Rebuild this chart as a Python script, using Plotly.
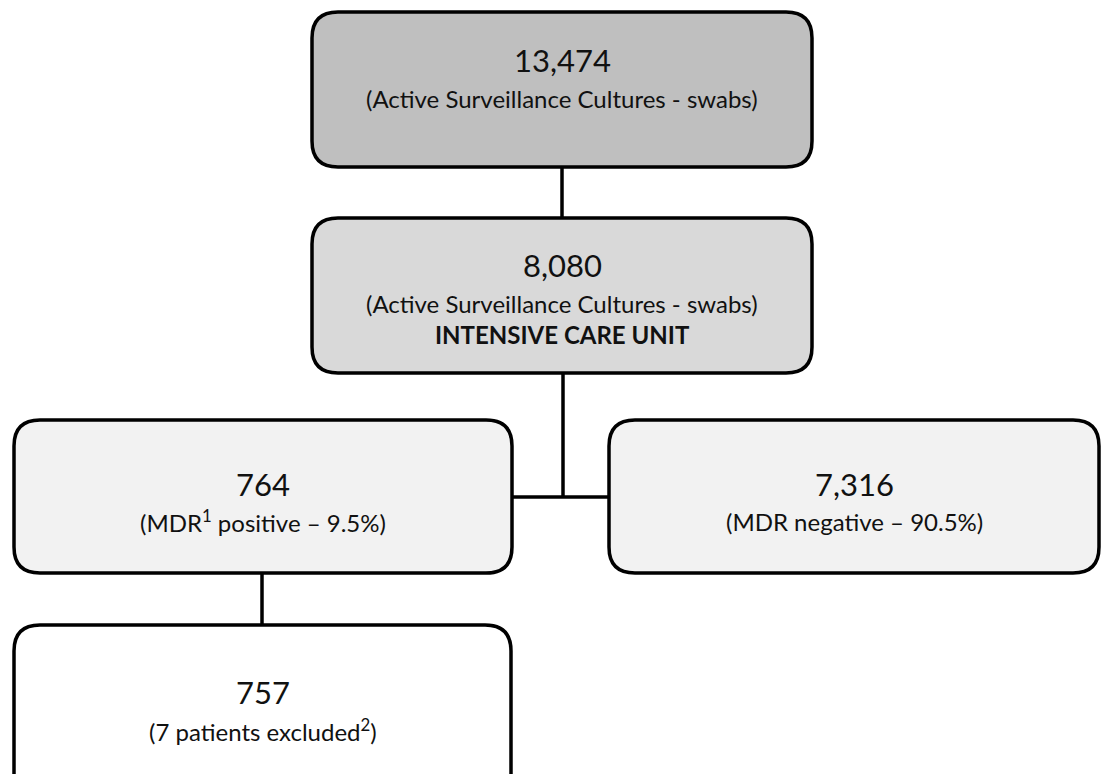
import plotly.graph_objects as go

# ---- data ----
counts = ["13,474", "8,080", "764", "7,316", "757"]
descriptions = [
    "(Active Surveillance Cultures - swabs)",
    "(Active Surveillance Cultures - swabs)",
    "(MDR<sup>1</sup> positive – 9.5%)",
    "(MDR negative – 90.5%)",
    "(7 patients excluded<sup>2</sup>)",
]
extra_lines = ["", "<b>INTENSIVE CARE UNIT</b>", "", "", ""]

# ---- layout of the flowchart (pixel coordinates, y downward) ----
boxes = [  # x0, y0, x1, y1
    (312, 12, 812, 167),
    (312, 218, 812, 373),
    (14, 420, 512, 573),
    (609, 420, 1099, 573),
    (14, 625, 511, 800),
]
fills = ["#bfbfbf", "#d9d9d9", "#f2f2f2", "#f2f2f2", "#ffffff"]
count_y = [60, 265, 484, 484, 692]
desc_y = [98, 303, 521, 521, 730]
extra_y = [None, 334, None, None, None]
connectors = [  # x0, y0, x1, y1
    (562, 167, 562, 218),
    (563, 373, 563, 497),
    (512, 497, 609, 497),
    (262, 573, 262, 625),
]

W, H = 1101, 774
R = 26
LW = 3.5
FONT = "Lato"

def rounded(x0, y0, x1, y1, r):
    return (f"M {x0+r},{y0} L {x1-r},{y0} Q {x1},{y0} {x1},{y0+r} "
            f"L {x1},{y1-r} Q {x1},{y1} {x1-r},{y1} L {x0+r},{y1} "
            f"Q {x0},{y1} {x0},{y1-r} L {x0},{y0+r} Q {x0},{y0} {x0+r},{y0} Z")

fig = go.Figure()
fig.add_trace(go.Scatter(x=[0, W], y=[0, H], mode="markers",
                         marker=dict(opacity=0), hoverinfo="skip", showlegend=False))

shapes = []
for (x0, y0, x1, y1) in connectors:
    shapes.append(dict(type="line", xref="x", yref="y", x0=x0, y0=y0, x1=x1, y1=y1,
                       line=dict(color="#000000", width=LW), layer="below"))
for b, f in zip(boxes, fills):
    shapes.append(dict(type="path", xref="x", yref="y", path=rounded(*b, R),
                       fillcolor=f, line=dict(color="#000000", width=LW), layer="above"))

annotations = []
for i, b in enumerate(boxes):
    cx = (b[0] + b[2]) / 2
    annotations.append(dict(x=cx, y=count_y[i], xref="x", yref="y", text=counts[i],
                            showarrow=False, xanchor="center", yanchor="middle",
                            font=dict(family=FONT, size=31, color="#111111")))
    annotations.append(dict(x=cx, y=desc_y[i], xref="x", yref="y", text=descriptions[i],
                            showarrow=False, xanchor="center", yanchor="middle",
                            font=dict(family=FONT, size=24, color="#111111")))
    if extra_lines[i]:
        annotations.append(dict(x=cx, y=extra_y[i], xref="x", yref="y", text=extra_lines[i],
                                showarrow=False, xanchor="center", yanchor="middle",
                                font=dict(family=FONT, size=24, color="#111111")))

fig.update_layout(
    width=W, height=H,
    margin=dict(l=0, r=0, t=0, b=0),
    paper_bgcolor="white", plot_bgcolor="white",
    xaxis=dict(range=[0, W], visible=False, fixedrange=True),
    yaxis=dict(range=[H, 0], visible=False, fixedrange=True),
    shapes=shapes, annotations=annotations, showlegend=False,
)

fig.write_html("out.html", config={"displayModeBar": False},
               post_script="document.body.style.margin='0';document.body.style.overflow='hidden';")
